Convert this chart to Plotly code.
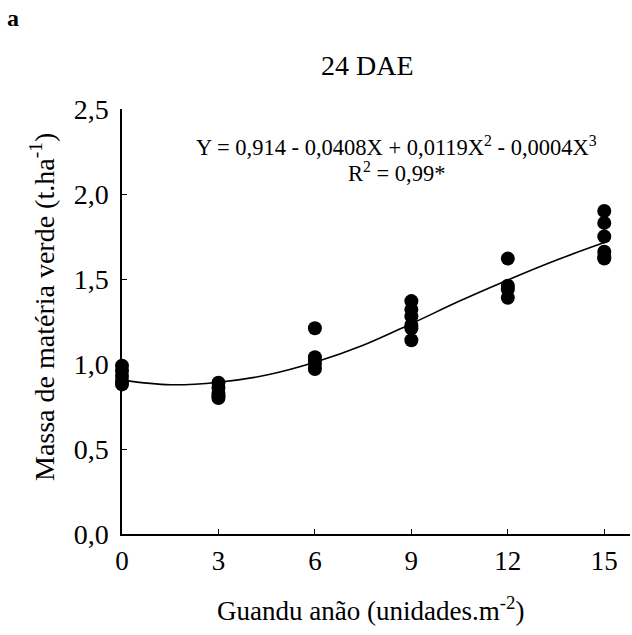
import plotly.graph_objects as go

# Observed data (Guandu anão density vs green mass)
x_obs = [0, 0, 0, 0, 0,
         3, 3, 3, 3, 3,
         6, 6, 6, 6, 6,
         9, 9, 9, 9, 9, 9,
         12, 12, 12, 12,
         15, 15, 15, 15, 15, 15]
y_obs = [0.99, 0.96, 0.93, 0.90, 0.88,
         0.89, 0.86, 0.83, 0.81, 0.80,
         1.21, 1.04, 1.02, 1.00, 0.97,
         1.37, 1.32, 1.28, 1.23, 1.21, 1.14,
         1.62, 1.46, 1.44, 1.39,
         1.90, 1.83, 1.75, 1.66, 1.63, 1.62]

# Fitted curve
x_fit = [0, 1.5, 3, 4.5, 6, 7.5, 9, 10.5, 12, 13.5, 15]
y_fit = [0.905, 0.878, 0.893, 0.935, 1.01, 1.11, 1.237, 1.37, 1.494, 1.61, 1.714]

x_ticks = [0, 3, 6, 9, 12, 15]
y_ticks = [0, 0.5, 1.0, 1.5, 2.0, 2.5]
y_ticktext = ["0,0", "0,5", "1,0", "1,5", "2,0", "2,5"]

FONT = "Liberation Serif, Times New Roman, serif"

fig = go.Figure()
fig.add_trace(go.Scatter(x=x_fit, y=y_fit, mode="lines", line=dict(color="black", width=1.6, shape="spline"),
                         hoverinfo="skip", showlegend=False))
fig.add_trace(go.Scatter(x=x_obs, y=y_obs, mode="markers",
                         marker=dict(color="black", size=14), showlegend=False, cliponaxis=False))

fig.update_layout(
    width=632, height=635,
    margin=dict(l=122, r=2, t=109, b=101),
    paper_bgcolor="white", plot_bgcolor="white",
    font=dict(family=FONT, color="black", size=28),
    xaxis=dict(range=[0, 15.8], tickvals=x_ticks, ticktext=[str(v) for v in x_ticks],
               showline=True, linecolor="black", linewidth=1.5, ticks="inside", ticklen=5,
               tickcolor="black", showgrid=False, zeroline=False, ticklabelstandoff=2,
               tickfont=dict(size=27, family=FONT)),
    yaxis=dict(range=[0, 2.5], tickvals=y_ticks, ticktext=y_ticktext,
               showline=True, linecolor="black", linewidth=1.5, ticks="inside", ticklen=5,
               tickcolor="black", showgrid=False, zeroline=False, ticklabelstandoff=6,
               tickfont=dict(size=28, family=FONT)),
)

# axis titles
fig.add_annotation(text="Guandu anão (unidades.m<sup>-2</sup>)", xref="paper", yref="paper",
                   x=0, y=0, xshift=248, yshift=-75, showarrow=False,
                   font=dict(size=27, family=FONT), xanchor="center", yanchor="middle")
fig.add_annotation(text="Massa de matéria verde (t.ha<sup>-1</sup>)", xref="paper", yref="paper",
                   x=0, y=0, xshift=-80, yshift=227, textangle=-90, showarrow=False,
                   font=dict(size=28, family=FONT), xanchor="center", yanchor="middle")

fig.add_annotation(text="24 DAE", xref="paper", yref="paper", x=0, y=1, xshift=245, yshift=44,
                   showarrow=False, font=dict(size=28, family=FONT), xanchor="center", yanchor="middle")
fig.add_annotation(text="Y = 0,914 - 0,0408X + 0,0119X<sup>2</sup> - 0,0004X<sup>3</sup>", xref="x", yref="y",
                   x=8.55, y=2.285, showarrow=False, font=dict(size=22.5, family=FONT),
                   xanchor="center", yanchor="middle")
fig.add_annotation(text="R<sup>2</sup> = 0,99*", xref="x", yref="y",
                   x=8.55, y=2.13, showarrow=False, font=dict(size=22.5, family=FONT),
                   xanchor="center", yanchor="middle")
fig.add_annotation(text="<b>a</b>", xref="paper", yref="paper", x=0, y=1, xshift=-109, yshift=91,
                   showarrow=False, font=dict(size=24, family=FONT), xanchor="center", yanchor="middle")

fig.write_html("out.html")
